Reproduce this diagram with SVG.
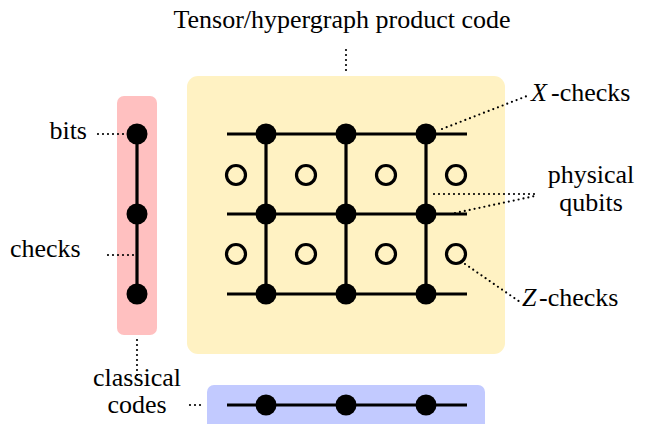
<svg xmlns="http://www.w3.org/2000/svg" width="650" height="424" viewBox="0 0 650 424">
<style>
text{font-family:"Liberation Serif","Times New Roman",serif;font-size:26px;fill:#000}
.it{font-style:italic}
.edge{stroke:#000;stroke-width:3.2;fill:none}
.dot{stroke:#000;stroke-width:2.2;stroke-dasharray:0 5;stroke-linecap:round;fill:none}
.v{fill:#000}
.q{fill:none;stroke:#000;stroke-width:3.2}
</style>
<rect width="650" height="424" fill="#fff"/>
<g id="product-code">
<rect x="187" y="76" width="318" height="278" rx="11" fill="#fff2c3"/>
</g>
<g id="classical-code-vertical">
<rect x="117" y="96" width="40" height="239" rx="7" fill="#ffc0c0"/>
</g>
<g id="classical-code-horizontal">
<rect x="207" y="385" width="278" height="45" rx="7" fill="#c2caff"/>
</g>
<g id="connectors">
<line class="edge" x1="227" y1="134" x2="467" y2="134"/>
<line class="edge" x1="227" y1="214" x2="467" y2="214"/>
<line class="edge" x1="227" y1="294" x2="467" y2="294"/>
<line class="edge" x1="266" y1="134" x2="266" y2="294"/>
<line class="edge" x1="346" y1="134" x2="346" y2="294"/>
<line class="edge" x1="426" y1="134" x2="426" y2="294"/>
<line class="edge" x1="137" y1="134" x2="137" y2="294"/>
<line class="edge" x1="227" y1="405" x2="467" y2="405"/>
<line class="dot" x1="346" y1="50" x2="346" y2="75"/>
<line class="dot" x1="98" y1="134" x2="128" y2="134"/>
<line class="dot" x1="108" y1="255" x2="138" y2="255"/>
<line class="dot" x1="137" y1="340" x2="137" y2="380"/>
<line class="dot" x1="190" y1="405" x2="205" y2="405"/>
<line class="dot" x1="442" y1="129" x2="527" y2="96"/>
<line class="dot" x1="434" y1="194" x2="539" y2="194"/>
<line class="dot" x1="455" y1="213" x2="535" y2="196"/>
<line class="dot" x1="465" y1="264" x2="520" y2="302"/>
</g>
<g id="check-nodes">
<circle class="v" cx="266" cy="134" r="10.5"/>
<circle class="v" cx="346" cy="134" r="10.5"/>
<circle class="v" cx="426" cy="134" r="10.5"/>
<circle class="v" cx="266" cy="214" r="10.5"/>
<circle class="v" cx="346" cy="214" r="10.5"/>
<circle class="v" cx="426" cy="214" r="10.5"/>
<circle class="v" cx="266" cy="294" r="10.5"/>
<circle class="v" cx="346" cy="294" r="10.5"/>
<circle class="v" cx="426" cy="294" r="10.5"/>
</g>
<g id="qubit-nodes">
<circle class="q" cx="236" cy="175" r="9.5"/>
<circle class="q" cx="306" cy="175" r="9.5"/>
<circle class="q" cx="386" cy="175" r="9.5"/>
<circle class="q" cx="456" cy="175" r="9.5"/>
<circle class="q" cx="236" cy="254" r="9.5"/>
<circle class="q" cx="306" cy="254" r="9.5"/>
<circle class="q" cx="386" cy="254" r="9.5"/>
<circle class="q" cx="456" cy="254" r="9.5"/>
</g>
<g id="classical-nodes">
<circle class="v" cx="137" cy="134" r="10.5"/>
<circle class="v" cx="137" cy="214" r="10.5"/>
<circle class="v" cx="137" cy="294" r="10.5"/>
<circle class="v" cx="266" cy="405" r="10.5"/>
<circle class="v" cx="346" cy="405" r="10.5"/>
<circle class="v" cx="426" cy="405" r="10.5"/>
</g>
<g id="labels">
<text x="342" y="28" text-anchor="middle">Tensor/hypergraph product code</text>
<text x="87" y="139" text-anchor="end">bits</text>
<text x="10" y="257">checks</text>
<text x="137" y="386" text-anchor="middle">classical</text>
<text x="137" y="413" text-anchor="middle">codes</text>
<text x="531" y="101"><tspan class="it">X</tspan><tspan x="551">-checks</tspan></text>
<text x="591" y="183" text-anchor="middle">physical</text>
<text x="591" y="211" text-anchor="middle">qubits</text>
<text x="522" y="306"><tspan class="it">Z</tspan><tspan x="539">-checks</tspan></text>
</g>
</svg>
